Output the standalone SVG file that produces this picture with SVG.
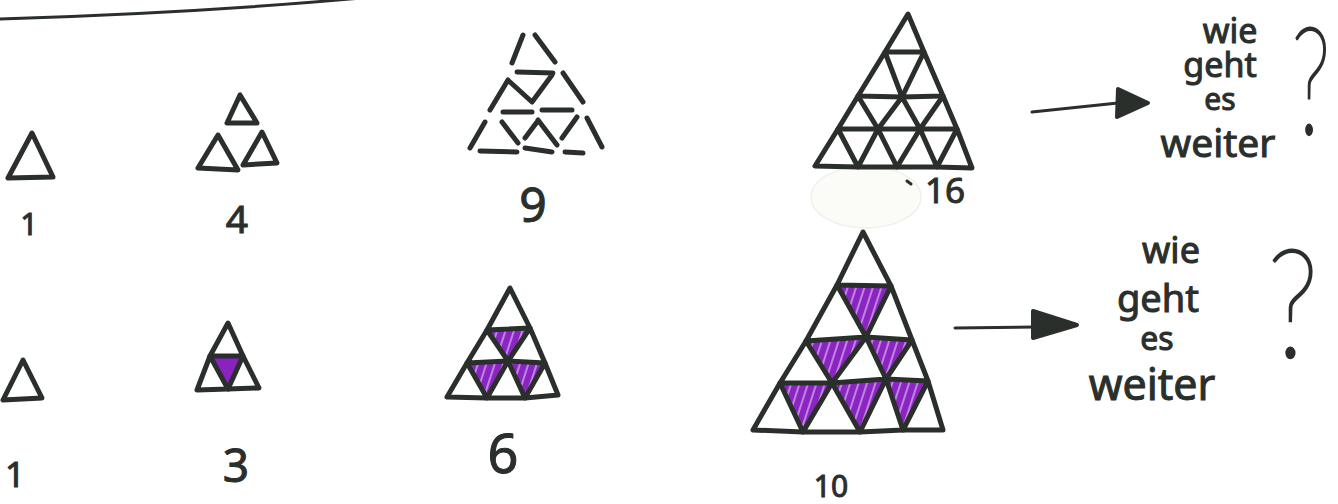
<svg xmlns="http://www.w3.org/2000/svg" width="1338" height="504" viewBox="0 0 1338 504">
<style>
.ink{fill:none;stroke:#2a2f2c;stroke-width:5;stroke-linecap:round;stroke-linejoin:round}
.thin{fill:none;stroke:#2a2f2c;stroke-width:3;stroke-linecap:round}
.hatch{fill:url(#hatch);stroke:none}
.solid{fill:#8a22c0;stroke:none}
.hand{font-family:"Noto Sans","DejaVu Sans",sans-serif;fill:#2a2f2c;stroke:#2a2f2c;stroke-width:1;text-anchor:middle}
.q{font-family:Lato,"Noto Sans",sans-serif;font-weight:200;fill:#2a2f2c;stroke:#2a2f2c;stroke-width:3;text-anchor:middle}
</style>
<defs>
<pattern id="hatch" patternUnits="userSpaceOnUse" width="8" height="16" patternTransform="rotate(18)">
<rect width="8" height="16" fill="#8b25c2"/>
<line x1="7" y1="0" x2="7" y2="16" stroke="#d9b8ee" stroke-width="1.3"/>
</pattern>
</defs>
<rect width="1338" height="504" fill="#ffffff"/>

<g id="top-line">
<path class="thin" d="M-2,19 Q200,13 372,-3"/>
</g>

<g id="glare">
<ellipse cx="866" cy="197" rx="55" ry="31" fill="#fbfbf8" stroke="#f1f0ea" stroke-width="1.5"/>
</g>

<g id="fig-1-top">
<polygon class="ink" points="32,133 8,178 53,177"/>
<text class="hand" x="29" y="235" font-size="31">1</text>
</g>

<g id="fig-4">
<polygon class="ink" points="240,95 227,123 257,123"/>
<polygon class="ink" points="218,135 198,168 238,170"/>
<polygon class="ink" points="262,132 243,165 277,163"/>
<text class="hand" x="237" y="233" font-size="39">4</text>
</g>

<g id="fig-9">
<path class="ink" d="M523,35 L512,63 M535,35 L555,62 M517,72 L553,73 M510,82 L532,102 L552,75 M508,80 L490,110 M563,73 L583,102 M503,112 L532,112 M542,110 L572,110 M485,122 L470,148 M502,122 L518,143 M537,122 L525,138 M538,120 L557,145 M577,117 L562,138 M587,118 L602,147 M480,151 L517,152 M525,148 L552,152 M565,152 L583,153"/>
<text class="hand" x="533" y="222" font-size="48">9</text>
</g>

<g id="fig-16">
<polygon class="ink" points="908,14 885,52 924,52"/>
<polygon class="ink" points="885,52 858,96 902,97"/>
<polygon class="ink" points="924,52 902,97 943,96"/>
<polygon class="ink" points="858,96 838,129 878,129"/>
<polygon class="ink" points="902,97 878,129 920,129"/>
<polygon class="ink" points="943,96 920,129 957,129"/>
<polygon class="ink" points="838,129 815,166 858,167"/>
<polygon class="ink" points="878,129 858,167 897,167"/>
<polygon class="ink" points="920,129 897,167 937,167"/>
<polygon class="ink" points="957,129 937,167 972,168"/>
<line class="thin" x1="907" y1="181" x2="911" y2="184"/>
<text class="hand" x="945" y="203" font-size="35">16</text>
</g>

<g id="fig-1-bottom">
<polygon class="ink" points="23,360 3,400 42,398"/>
<text class="hand" x="15" y="487" font-size="35">1</text>
</g>

<g id="fig-3">
<polygon class="solid" points="210,356 243,356 228,388"/>
<polygon class="ink" points="228,323 210,356 243,356"/>
<polygon class="ink" points="210,356 197,390 228,389"/>
<polygon class="ink" points="243,356 228,389 259,388"/>
<text class="hand" x="236" y="482" font-size="46">3</text>
</g>

<g id="fig-6">
<polygon class="hatch" points="487,330 530,328 508,361"/>
<polygon class="hatch" points="467,363 508,361 487,398"/>
<polygon class="hatch" points="508,361 545,363 525,398"/>
<polygon class="ink" points="510,288 487,330 530,328"/>
<polygon class="ink" points="487,330 467,363 508,361"/>
<polygon class="ink" points="530,328 508,361 545,363"/>
<polygon class="ink" points="467,363 447,397 487,398"/>
<polygon class="ink" points="508,361 487,398 525,398"/>
<polygon class="ink" points="545,363 525,398 558,395"/>
<text class="hand" x="503" y="473" font-size="54" stroke-width="0">6</text>
</g>

<g id="fig-10">
<polygon class="hatch" points="837,285 891,286 866,337"/>
<polygon class="hatch" points="806,341 866,337 832,383"/>
<polygon class="hatch" points="866,337 912,340 886,379"/>
<polygon class="hatch" points="780,383 832,383 803,432"/>
<polygon class="hatch" points="832,383 886,379 860,432"/>
<polygon class="hatch" points="886,379 928,381 903,430"/>
<polygon class="ink" points="863,232 837,285 891,286"/>
<polygon class="ink" points="837,285 806,341 866,337"/>
<polygon class="ink" points="891,286 866,337 912,340"/>
<polygon class="ink" points="806,341 780,383 832,383"/>
<polygon class="ink" points="866,337 832,383 886,379"/>
<polygon class="ink" points="912,340 886,379 928,381"/>
<polygon class="ink" points="780,383 753,430 803,432"/>
<polygon class="ink" points="832,383 803,432 860,432"/>
<polygon class="ink" points="886,379 860,432 903,430"/>
<polygon class="ink" points="928,381 903,430 943,430"/>
<text class="hand" x="831" y="497" font-size="30">10</text>
</g>

<g id="connectors">
<line class="thin" x1="1032" y1="112" x2="1118" y2="103"/>
<polygon points="1118,89 1148,103 1117,117" fill="#2a2f2c" stroke="#2a2f2c" stroke-width="4" stroke-linejoin="round"/>
<line class="thin" x1="955" y1="328" x2="1035" y2="327"/>
<polygon points="1033,311 1077,325 1033,338" fill="#2a2f2c" stroke="#2a2f2c" stroke-width="4" stroke-linejoin="round"/>
</g>

<g id="question-top">
<text class="hand" x="1230" y="43" font-size="34">wie</text>
<text class="hand" x="1220" y="77" font-size="34">geht</text>
<text class="hand" x="1220" y="110" font-size="30">es</text>
<text class="hand" x="1218" y="157" font-size="39">weiter</text>
<text class="q" x="0" y="0" font-size="148" transform="translate(1311,133) scale(0.62,1)">?</text>
</g>

<g id="question-bottom">
<text class="hand" x="1171" y="263" font-size="36">wie</text>
<text class="hand" x="1158" y="312" font-size="38">geht</text>
<text class="hand" x="1157" y="350" font-size="32">es</text>
<text class="hand" x="1152" y="400" font-size="43">weiter</text>
<text class="q" x="0" y="0" font-size="150" transform="translate(1293,357) scale(0.8,1)">?</text>
</g>
</svg>
